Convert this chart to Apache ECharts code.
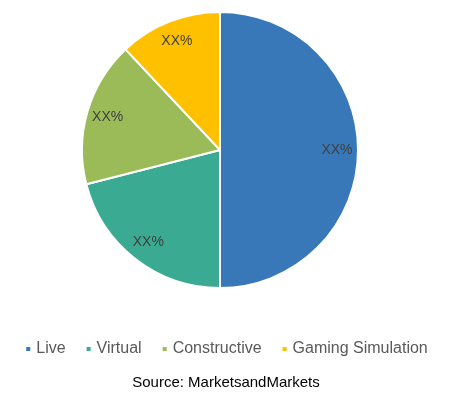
<!DOCTYPE html>
<html>
<head>
<meta charset="utf-8">
<script src="https://cdn.jsdelivr.net/npm/echarts@6/dist/echarts.min.js"></script>
<style>
html, body { margin: 0; padding: 0; background: #fff; }
#chart { width: 452px; height: 399px; }
</style>
</head>
<body>
<div id="chart"></div>
<script>
const categories = ['Live', 'Virtual', 'Constructive', 'Gaming Simulation'];
const shares = [50, 21, 17, 12];
const sliceLabels = ['XX%', 'XX%', 'XX%', 'XX%'];
const colors = ['#3878B8', '#3AAA93', '#9BBB59', '#FFC000'];

const pieData = categories.map((name, i) => ({ name: name, value: shares[i] }));

let option = {
    color: colors,
    title: {
        text: 'Source: MarketsandMarkets',
        left: 'center',
        top: 370,
        textStyle: {
            fontFamily: 'Liberation Sans',
            fontSize: 15,
            fontWeight: 'normal',
            color: '#000',
        },
    },
    legend: {
        data: categories,
        top: 336,
        left: 'center',
        icon: 'rect',
        itemWidth: 6,
        itemHeight: 6,
        itemGap: 19,
        textStyle: {
            fontFamily: 'Liberation Sans',
            fontSize: 16,
            color: '#595959',
        },
    },
    series: [
        {
            type: 'pie',
            center: [220, 150],
            radius: [0, 138],
            startAngle: 90,
            clockwise: true,
            silent: true,
            label: { show: false },
            labelLine: { show: false },
            itemStyle: { borderColor: '#fff', borderWidth: 2 },
            data: pieData,
        },
        {
            // transparent ring only to place the labels near the rim
            type: 'pie',
            center: [220, 150],
            radius: [90, 138],
            startAngle: 90,
            clockwise: true,
            silent: true,
            itemStyle: { color: 'rgba(0,0,0,0)' },
            label: {
                show: true,
                position: 'inside',
                formatter: (p) => sliceLabels[p.dataIndex],
                fontFamily: 'Liberation Sans',
                fontSize: 14,
                color: '#404040',
            },
            labelLine: { show: false },
            data: pieData,
        },
    ],
};

let chart = echarts.init(document.getElementById('chart'));
chart.setOption(option);
</script>
</body>
</html>
